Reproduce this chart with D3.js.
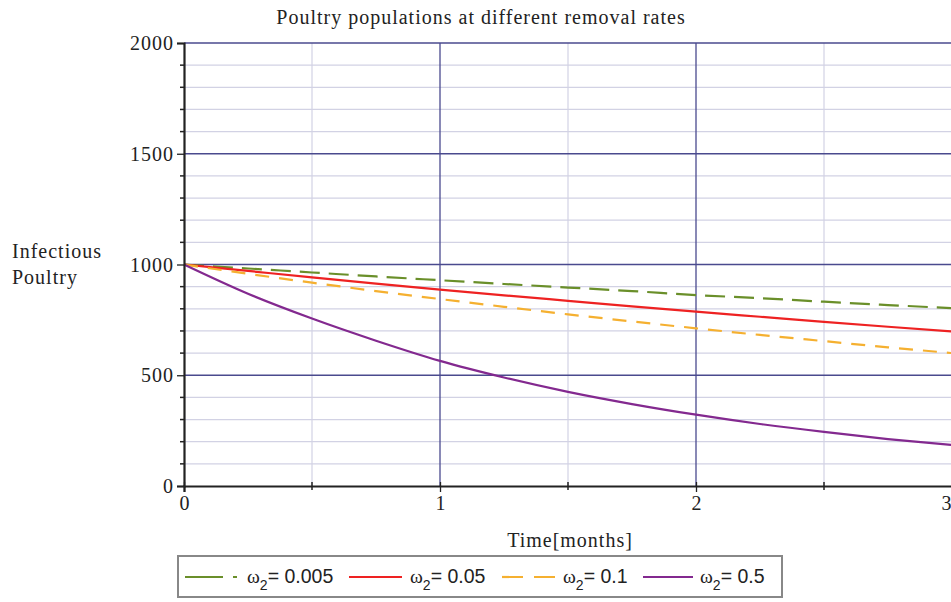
<!DOCTYPE html>
<html><head><meta charset="utf-8">
<script src="https://cdn.jsdelivr.net/npm/d3@7"></script>
<style>body{margin:0;background:#fff;overflow:hidden}svg{display:block}</style>
</head><body>
<svg id="chart" width="951" height="602"></svg>
<script>
const times = [0, 0.25, 0.5, 0.75, 1, 1.25, 1.5, 1.75, 2, 2.25, 2.5, 2.75, 3];
const w0005 = [1000, 982, 964, 946, 929, 912, 896, 880, 862, 848, 832, 817, 803];
const w005  = [1000, 971, 942, 914, 887, 861, 836, 811, 787, 764, 741, 719, 698];
const w01   = [1000, 958, 918, 880, 844, 809, 775, 743, 712, 682, 654, 626, 600];
const w05   = [1000, 868, 756, 656, 565, 490, 425, 370, 322, 280, 244, 212, 185];
const seriesNames = ["0.005", "0.05", "0.1", "0.5"];
const xTicks = [0, 1, 2, 3];
const yTicks = [0, 500, 1000, 1500, 2000];

const svg = d3.select("#chart");
const x = d3.scaleLinear().domain([0, 3]).range([184, 952]);
const y = d3.scaleLinear().domain([0, 2000]).range([486, 43]);
const serif = "'Liberation Serif', 'Times New Roman', serif";
const sans = "'Liberation Sans', Arial, sans-serif";
const FS = 20, LS = 1;

const grid = svg.append("g");
d3.range(100, 2000, 100).filter(v => v % 500 !== 0).forEach(v => {
  grid.append("line").attr("x1", 184).attr("x2", 951).attr("y1", y(v)).attr("y2", y(v))
    .attr("stroke", "#d2d2e4").attr("stroke-width", 1.2);
});
[0.5, 1.5, 2.5].forEach(v => {
  grid.append("line").attr("x1", x(v)).attr("x2", x(v)).attr("y1", y(0)).attr("y2", y(2000))
    .attr("stroke", "#d2d2e4").attr("stroke-width", 1.2);
});
[500, 1000, 1500, 2000].forEach(v => {
  grid.append("line").attr("x1", 184).attr("x2", 951).attr("y1", y(v)).attr("y2", y(v))
    .attr("stroke", "#4a4a8e").attr("stroke-width", 1.3);
});
[1, 2].forEach(v => {
  grid.append("line").attr("x1", x(v)).attr("x2", x(v)).attr("y1", y(0)).attr("y2", y(2000))
    .attr("stroke", "#4a4a8e").attr("stroke-width", 1.3);
});

const series = [
  {vals: w0005, color: "#6a8f2a", dash: "20,9"},
  {vals: w005, color: "#ee2222", dash: null},
  {vals: w01, color: "#f5b030", dash: "14,10"},
  {vals: w05, color: "#83298f", dash: null}
];
const line = d3.line().x((d, i) => x(times[i])).y(d => y(d)).curve(d3.curveMonotoneX);
series.forEach(s => {
  const p = svg.append("path").datum(s.vals).attr("d", line).attr("fill", "none")
    .attr("stroke", s.color).attr("stroke-width", 2.2);
  if (s.dash) p.attr("stroke-dasharray", s.dash);
});

const yAxis = d3.axisLeft(y).tickValues(yTicks).tickSize(7).tickFormat(d3.format("d"));
const gy = svg.append("g").attr("transform", "translate(184,0)").call(yAxis);
gy.select(".domain").attr("stroke", "#222").attr("stroke-width", 2.2);
gy.selectAll(".tick line").attr("stroke", "#222").attr("stroke-width", 1.3);
gy.selectAll(".tick text").attr("font-family", serif).attr("font-size", FS).attr("letter-spacing", LS)
  .attr("fill", "#222").attr("x", -10).attr("dy", "0.33em");
d3.range(100, 2000, 100).filter(v => v % 500 !== 0).forEach(v => {
  svg.append("line").attr("x1", 180).attr("x2", 184).attr("y1", y(v)).attr("y2", y(v))
    .attr("stroke", "#222").attr("stroke-width", 1.5);
});

const xAxis = d3.axisBottom(x).tickValues(xTicks).tickSize(6).tickFormat(d3.format("d"));
const gx = svg.append("g").attr("transform", "translate(0,486)").call(xAxis);
gx.select(".domain").attr("stroke", "#222").attr("stroke-width", 2.2);
gx.selectAll(".tick line").attr("stroke", "#222").attr("stroke-width", 1.3).attr("y1", -4);
gx.selectAll(".tick text").attr("font-family", serif).attr("font-size", FS)
  .attr("fill", "#222").attr("y", 10);
gx.selectAll(".tick text").filter(d => d === 3).attr("text-anchor", "end").attr("x", 951 - x(3));
[0.5, 1.5, 2.5].forEach(v => {
  svg.append("line").attr("x1", x(v)).attr("x2", x(v)).attr("y1", 482).attr("y2", 490)
    .attr("stroke", "#222").attr("stroke-width", 1.5);
});

svg.append("text").attr("x", 481).attr("y", 24).attr("text-anchor", "middle")
  .attr("font-family", serif).attr("font-size", FS).attr("letter-spacing", LS).attr("fill", "#222")
  .text("Poultry populations at different removal rates");
svg.append("text").attr("x", 570).attr("y", 547).attr("text-anchor", "middle")
  .attr("font-family", serif).attr("font-size", FS).attr("letter-spacing", LS).attr("fill", "#222").text("Time[months]");
const yl = svg.append("text").attr("font-family", serif).attr("font-size", FS).attr("letter-spacing", LS).attr("fill", "#222");
yl.append("tspan").attr("x", 12).attr("y", 258).text("Infectious");
yl.append("tspan").attr("x", 12).attr("y", 284).text("Poultry");

svg.append("rect").attr("x", 178).attr("y", 556).attr("width", 604).attr("height", 41)
  .attr("fill", "#fff").attr("stroke", "#888").attr("stroke-width", 2);
const legX = [185, 349, 502, 643];
const legLen = [52, 53, 53, 50];
const textX = [247, 410, 563, 700];
series.forEach((s, i) => {
  const ly = 577;
  const l = svg.append("line").attr("x1", legX[i]).attr("x2", legX[i] + legLen[i]).attr("y1", ly).attr("y2", ly)
    .attr("stroke", s.color).attr("stroke-width", 2.2);
  if (i === 0) l.attr("stroke-dasharray", "38,10,4,100");
  if (i === 2) l.attr("stroke-dasharray", "21,11");
  const t = svg.append("text").attr("x", textX[i]).attr("y", 583).attr("fill", "#222").attr("font-size", 19.5);
  t.append("tspan").attr("font-family", serif).text("ω");
  t.append("tspan").attr("font-family", sans).attr("font-size", 14).attr("dy", 7).text("2");
  t.append("tspan").attr("font-family", sans).attr("dy", -7).text("= " + seriesNames[i]);
});
</script>
</body></html>
